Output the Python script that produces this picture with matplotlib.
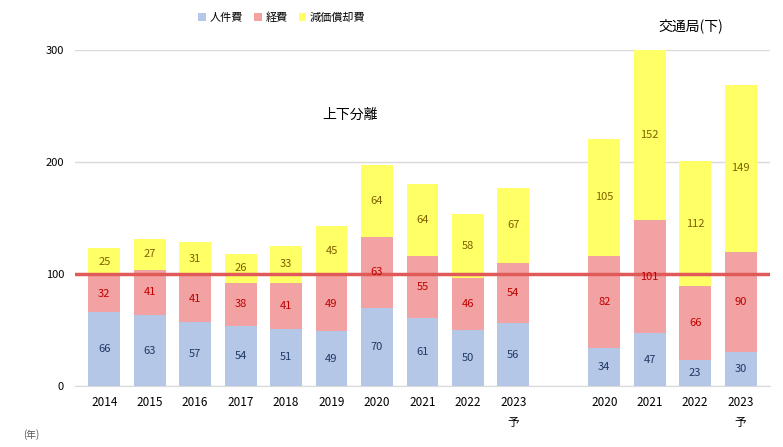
import numpy as np
import matplotlib.pyplot as plt

plt.rcParams['font.family'] = ['Noto Sans CJK JP', 'DejaVu Sans']

# 上下分離 (left) and 交通局(下) (right)
years_l = ['2014', '2015', '2016', '2017', '2018', '2019', '2020', '2021', '2022', '2023\n予']
jinken_l = [66, 63, 57, 54, 51, 49, 70, 61, 50, 56]
keihi_l = [32, 41, 41, 38, 41, 49, 63, 55, 46, 54]
genka_l = [25, 27, 31, 26, 33, 45, 64, 64, 58, 67]

years_r = ['2020', '2021', '2022', '2023\n予']
jinken_r = [34, 47, 23, 30]
keihi_r = [82, 101, 66, 90]
genka_r = [105, 152, 112, 149]

legend_labels = ['人件費', '経費', '減価償却費']
c_blue, c_red, c_yel = '#b4c7e7', '#f2a2a2', '#ffff66'
t_blue, t_red, t_yel = '#1f3864', '#c00000', '#7f6000'

x = list(range(10)) + [11, 12, 13, 14]
labels = years_l + years_r
b1 = np.array(jinken_l + jinken_r)
b2 = np.array(keihi_l + keihi_r)
b3 = np.array(genka_l + genka_r)

fig = plt.figure(figsize=(7.83, 4.47), dpi=100)
ax = fig.add_axes([0.096, 0.1365, 0.887, 0.7515])

w = 0.7
r1 = ax.bar(x, b1, w, color=c_blue, label=legend_labels[0], zorder=2)
r2 = ax.bar(x, b2, w, bottom=b1, color=c_red, label=legend_labels[1], zorder=2)
r3 = ax.bar(x, b3, w, bottom=b1 + b2, color=c_yel, label=legend_labels[2], zorder=2, clip_on=False)

for vals, bot, col in [(b1, 0, t_blue), (b2, b1, t_red), (b3, b1 + b2, t_yel)]:
    for xi, v, b in zip(x, vals, np.broadcast_to(bot, b1.shape)):
        ax.text(xi, b + v / 2, str(v), ha='center', va='center', fontsize=8, color=col, zorder=4)

ax.axhline(100, color='#e05a5a', lw=2.5, zorder=3)

ax.set_ylim(0, 300)
ax.set_xlim(-0.64, 14.64)
ax.set_yticks([0, 100, 200, 300])
ax.set_xticks(x)
ax.set_xticklabels(labels, fontsize=8.5, linespacing=1.7)
ax.tick_params(axis='y', labelsize=8, length=0, pad=8)
ax.tick_params(axis='x', length=0, pad=7)
ax.grid(axis='y', color='#d9d9d9', lw=1, zorder=0)
for s in ['top', 'right', 'left']:
    ax.spines[s].set_visible(False)
ax.spines['bottom'].set_color('#d9d9d9')

ax.text(5.4, 242, '上下分離', ha='center', va='center', fontsize=10)
ax.text(12.9, 322, '交通局(下)', ha='center', va='center', fontsize=10, clip_on=False)
fig.legend(loc='upper center', bbox_to_anchor=(0.36, 0.995), ncol=3, frameon=False,
           fontsize=8, handlelength=0.7, handletextpad=0.3, columnspacing=1.0)
fig.text(0.03, 0.02, '(年)', fontsize=7, color='#555555')

plt.savefig('out.png', dpi=100)
